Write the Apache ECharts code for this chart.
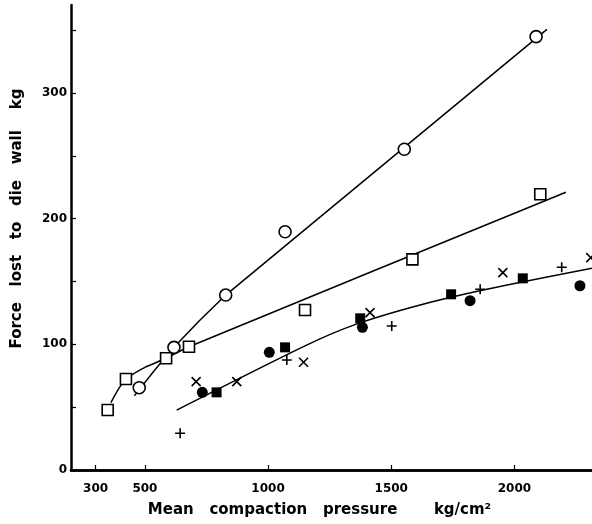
<!DOCTYPE html>
<html>
<head>
<meta charset="utf-8">
<script src="https://cdn.jsdelivr.net/npm/echarts@6/dist/echarts.min.js"></script>
<style>html,body{margin:0;padding:0;background:#fff}#c{width:592px;height:524px}</style>
</head>
<body>
<div id="c"></div>
<script>
// tick labels
const xTickLabels = [300, 500, 1000, 1500, 2000];
const yTickLabels = [0, 100, 200, 300];
const yMinorTicks = [0, 50, 100, 150, 200, 250, 300, 350];

// data points [pressure kg/cm2, force kg]
const openCircles = [[477, 65.5], [618, 97.6], [828, 139.2], [1069, 189.6], [1553, 255.2], [2088, 344.8]];
const openSquares = [[349, 47.7], [423, 72.4], [586, 88.9], [679, 98.1], [1150, 127.3], [1586, 167.6], [2105, 219.4]];
const filledCircles = [[733, 61.8], [1005, 93.6], [1383, 113.5], [1820, 134.7], [2266, 146.6]];
const filledSquares = [[791, 61.8], [1069, 97.6], [1374, 120.7], [1743, 139.8], [2034, 152.5]];
const crosses = [[708, 70.3], [873, 70.3], [1144, 85.7], [1414, 125.2], [1953, 157], [2310, 169]];
const pluses = [[643, 29.2], [1076, 87.5], [1502, 114.6], [1861, 143.8], [2192, 161.3]];

// fitted curves
const circleFit = [[457, 59], [540, 79.5], [618, 97.6], [720, 118.6], [828, 139.2], [2132, 350.6]];
const squareFit = [[362, 53.5], [379, 59.7], [399, 66.3], [423, 72.4], [500, 81.7], [586, 88.9], [679, 98.1], [2209, 221]];
const lowerFit = [[629, 47.7], [1150, 98.8], [1350, 115.5], [1617, 131.3], [1888, 143.8], [2315, 160.5]];

const FONT = 'DejaVu Sans';
const chart = echarts.init(document.getElementById('c'), null, {renderer: 'canvas'});

function fitSeries(data, smooth) {
  return {type: 'line', data: data, smooth: smooth, symbol: 'none', z: 2,
    lineStyle: {color: '#000', width: 1.5}, silent: true};
}
function markSeries(data, symbol, size, fill, bw) {
  return {type: 'scatter', data: data, symbol: symbol, symbolSize: size, z: 5,
    itemStyle: {color: fill, borderColor: '#000', borderWidth: bw, opacity: 1}};
}
const plain = v => String(v);

chart.setOption({
  animation: false,
  backgroundColor: '#fff',
  grid: {left: 71, right: 0, top: 5, bottom: 54, containLabel: false},
  xAxis: [{
    type: 'value', min: 200, max: 2315,
    name: 'Mean   compaction   pressure       kg/cm²',
    nameLocation: 'middle', nameGap: 33,
    nameTextStyle: {color: '#000', fontFamily: FONT, fontSize: 15, fontWeight: 'bold', padding: [0, 24, 0, 0]},
    axisLine: {show: true, onZero: false, lineStyle: {color: '#000', width: 2.5}},
    axisTick: {show: true, inside: true, length: 5, customValues: xTickLabels, lineStyle: {color: '#000', width: 1.2}},
    axisLabel: {customValues: xTickLabels, formatter: plain, color: '#000', fontFamily: FONT, fontSize: 12, fontWeight: 'bold', margin: 13},
    splitLine: {show: false}
  }, {
    type: 'value', min: 200, max: 2315, position: 'top',
    axisLine: {show: true, lineStyle: {color: '#000', width: 2.5}},
    axisTick: {show: false}, axisLabel: {show: false}, splitLine: {show: false}
  }],
  yAxis: {
    type: 'value', min: 0, max: 370,
    name: 'Force   lost   to   die   wall    kg',
    nameLocation: 'middle', nameRotate: 90, nameGap: 46,
    nameTextStyle: {color: '#000', fontFamily: FONT, fontSize: 15, fontWeight: 'bold', padding: [0, 0, 0, 38]},
    axisLine: {show: true, onZero: false, lineStyle: {color: '#000', width: 2.5}},
    axisTick: {show: true, inside: true, length: 5, customValues: yMinorTicks, lineStyle: {color: '#000', width: 1.2}},
    axisLabel: {customValues: yTickLabels, formatter: plain, color: '#000', fontFamily: FONT, fontSize: 12, fontWeight: 'bold', margin: 4},
    splitLine: {show: false}
  },
  series: [
    fitSeries(circleFit, false),
    fitSeries(squareFit, 0.2),
    fitSeries(lowerFit, 0.25),
    markSeries(openCircles, 'circle', 12, '#fff', 1.6),
    markSeries(openSquares, 'rect', 11, '#fff', 1.6),
    markSeries(filledCircles, 'circle', 11, '#000', 0),
    markSeries(filledSquares, 'rect', 10, '#000', 0),
    markSeries(crosses, 'path://M0,0L10,10M10,0L0,10', 9, 'rgba(0,0,0,0)', 1.6),
    markSeries(pluses, 'path://M0,5L10,5M5,0L5,10', 10, 'rgba(0,0,0,0)', 1.6)
  ]
});
</script>
</body>
</html>
